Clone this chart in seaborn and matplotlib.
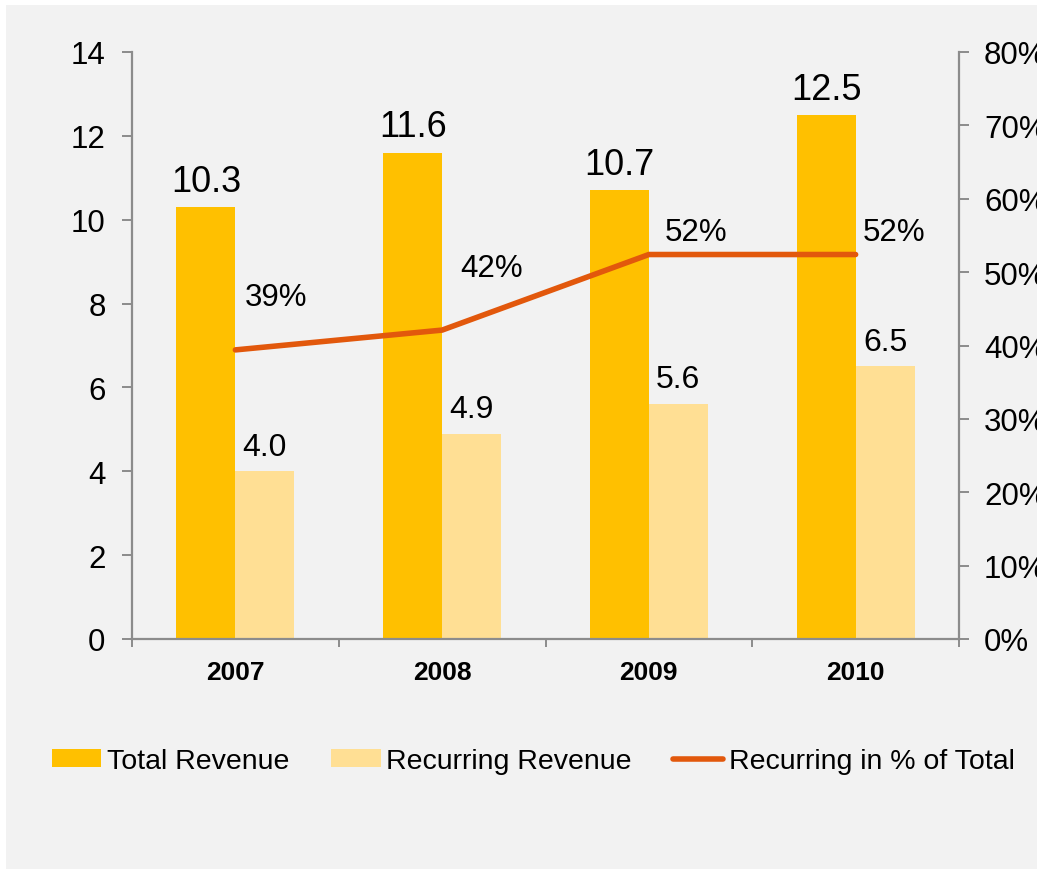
import numpy as np
import pandas as pd
import matplotlib
matplotlib.use("Agg")
import matplotlib.pyplot as plt
from matplotlib.patches import Patch, Rectangle
from matplotlib.lines import Line2D
import seaborn as sns

years = ["2007", "2008", "2009", "2010"]
total_revenue = [10.3, 11.6, 10.7, 12.5]
recurring_revenue = [4.0, 4.9, 5.6, 6.5]
recurring_pct = [39.4, 42.1, 52.4, 52.4]
pct_labels = ["39%", "42%", "52%", "52%"]
series_names = ["Total Revenue", "Recurring Revenue", "Recurring in % of Total"]

sns.set_style("white")
plt.rcParams["font.family"] = ["Liberation Sans", "DejaVu Sans"]
plt.rcParams["text.color"] = "black"
plt.rcParams["xtick.color"] = "black"
plt.rcParams["ytick.color"] = "black"
plt.rcParams["axes.labelcolor"] = "black"

BG = "#f2f2f2"
C_TOTAL = "#FFC000"
C_REC = "#FFDF94"
C_LINE = "#E2580C"
SPINE = "#8c8c8c"

df = pd.DataFrame({
    "year": years * 2,
    "value": total_revenue + recurring_revenue,
    "series": [series_names[0]] * len(years) + [series_names[1]] * len(years),
})

fig = plt.figure(figsize=(10.37, 8.70), dpi=100, facecolor="white")
fig.patches.append(Rectangle((6 / 1037, -0.1), 2, 1.1 - 6 / 870, transform=fig.transFigure,
                             facecolor=BG, edgecolor="none", zorder=-10))
ax = fig.add_axes([132 / 1037, 230 / 870, 827 / 1037, 587 / 870])
ax.set_facecolor(BG)

sns.barplot(data=df, x="year", y="value", hue="series", order=years,
            hue_order=series_names[:2], palette=[C_TOTAL, C_REC],
            width=0.57, linewidth=0, saturation=1, legend=False, ax=ax)

ax.set_ylim(0, 14)
ax.set_yticks(np.arange(0, 15, 2))
ax.set_xlim(-0.5, len(years) - 0.5)
ax.set_xlabel("")
ax.set_ylabel("")

for sp in ["top", "right"]:
    ax.spines[sp].set_visible(False)
for sp in ["left", "bottom"]:
    ax.spines[sp].set_color(SPINE)
    ax.spines[sp].set_linewidth(1.6)

ax.tick_params(axis="y", which="major", direction="out", length=7, width=1.4,
               color=SPINE, labelcolor="black", labelsize=22.5, pad=12, left=True)
ax.set_xticks(np.arange(len(years)))
ax.set_xticklabels(years, fontsize=19, fontweight="bold", color="black")
ax.set_xticks(np.arange(len(years) + 1) - 0.5, minor=True)
ax.tick_params(axis="x", which="major", length=0, pad=15)
ax.tick_params(axis="x", which="minor", direction="out", length=6, width=1.4,
               color=SPINE, bottom=True)

ax.bar_label(ax.containers[0], fmt="%.1f", fontsize=26, padding=6, color="black")
ax.bar_label(ax.containers[1], fmt="%.1f", fontsize=23, padding=7, color="black")

ax2 = ax.twinx()
x_pos = np.arange(len(years))
sns.lineplot(x=x_pos, y=recurring_pct, color=C_LINE, linewidth=4,
             solid_capstyle="round", ax=ax2, legend=False)
ax2.set_ylim(0, 80)
ax2.set_yticks(np.arange(0, 81, 10))
ax2.yaxis.set_major_formatter(matplotlib.ticker.FuncFormatter(lambda v, p: f"{v:.0f}%"))
for sp in ["top", "left", "bottom"]:
    ax2.spines[sp].set_visible(False)
ax2.spines["right"].set_color(SPINE)
ax2.spines["right"].set_linewidth(1.6)
ax2.tick_params(axis="y", direction="out", length=7, width=1.4, color=SPINE,
                labelcolor="black", labelsize=22.5, pad=11, right=True)
ax2.set_ylabel("")

offsets = [(6.5, 38), (13, 45), (11.5, 16.5), (5, 16.5)]
for xi, yi, lab, off in zip(x_pos, recurring_pct, pct_labels, offsets):
    ax2.annotate(lab, (xi, yi), xytext=off, textcoords="offset points",
                 ha="left", va="center", fontsize=22.5, color="black")

handles = [Patch(facecolor=C_TOTAL, edgecolor="none"),
           Patch(facecolor=C_REC, edgecolor="none"),
           Line2D([0], [0], color=C_LINE, linewidth=4)]
fig.legend(handles, series_names, loc="center", bbox_to_anchor=(0.514, 0.124),
           ncol=3, frameon=False, fontsize=20.5, handlelength=1.75, handleheight=0.55,
           handletextpad=0.2, columnspacing=1.45, labelcolor="black")

fig.savefig("out.png", dpi=100, facecolor="white")
